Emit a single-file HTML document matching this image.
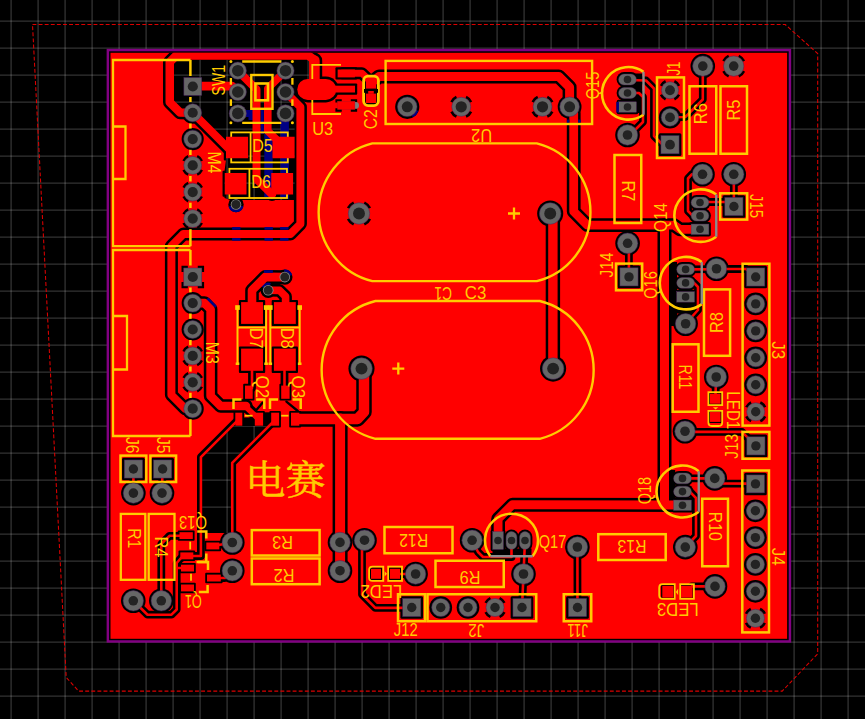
<!DOCTYPE html><html><head><meta charset="utf-8"><style>html,body{margin:0;padding:0;background:#000;overflow:hidden}svg{display:block}</style></head><body><svg width="865" height="719" viewBox="0 0 865 719" shape-rendering="auto"><defs><clipPath id="bc"><rect x="110.5" y="52.8" width="676.65" height="586"/></clipPath><clipPath id="vc"><polygon points="177.00,60.00 308.80,60.00 308.80,81.00 296.00,92.00 294.60,108.00 294.60,200.00 230.00,200.00 224.50,198.00 224.50,171.00 226.00,160.00 226.00,146.00 196.00,116.00 180.00,108.00 174.00,100.00 174.00,64.00"/><polygon points="233.40,426.00 267.20,426.00 230.90,462.40 230.90,533.00 202.20,533.00 202.20,457.40"/></clipPath></defs><rect width="865" height="719" fill="#000"/><g stroke="#ffffff" stroke-opacity="0.2" stroke-width="1.3"><line x1="11.1" y1="0" x2="11.1" y2="719"/><line x1="38.1" y1="0" x2="38.1" y2="719"/><line x1="65.1" y1="0" x2="65.1" y2="719"/><line x1="92.1" y1="0" x2="92.1" y2="719"/><line x1="119.1" y1="0" x2="119.1" y2="719"/><line x1="146.1" y1="0" x2="146.1" y2="719"/><line x1="173.1" y1="0" x2="173.1" y2="719"/><line x1="200.1" y1="0" x2="200.1" y2="719"/><line x1="227.1" y1="0" x2="227.1" y2="719"/><line x1="254.1" y1="0" x2="254.1" y2="719"/><line x1="281.1" y1="0" x2="281.1" y2="719"/><line x1="308.1" y1="0" x2="308.1" y2="719"/><line x1="335.1" y1="0" x2="335.1" y2="719"/><line x1="362.1" y1="0" x2="362.1" y2="719"/><line x1="389.1" y1="0" x2="389.1" y2="719"/><line x1="416.1" y1="0" x2="416.1" y2="719"/><line x1="443.1" y1="0" x2="443.1" y2="719"/><line x1="470.1" y1="0" x2="470.1" y2="719"/><line x1="497.1" y1="0" x2="497.1" y2="719"/><line x1="524.1" y1="0" x2="524.1" y2="719"/><line x1="551.1" y1="0" x2="551.1" y2="719"/><line x1="578.1" y1="0" x2="578.1" y2="719"/><line x1="605.1" y1="0" x2="605.1" y2="719"/><line x1="632.1" y1="0" x2="632.1" y2="719"/><line x1="659.1" y1="0" x2="659.1" y2="719"/><line x1="686.1" y1="0" x2="686.1" y2="719"/><line x1="713.1" y1="0" x2="713.1" y2="719"/><line x1="740.1" y1="0" x2="740.1" y2="719"/><line x1="767.1" y1="0" x2="767.1" y2="719"/><line x1="794.1" y1="0" x2="794.1" y2="719"/><line x1="821.1" y1="0" x2="821.1" y2="719"/><line x1="848.1" y1="0" x2="848.1" y2="719"/><line x1="0" y1="21.1" x2="865" y2="21.1"/><line x1="0" y1="48.1" x2="865" y2="48.1"/><line x1="0" y1="75.1" x2="865" y2="75.1"/><line x1="0" y1="102.1" x2="865" y2="102.1"/><line x1="0" y1="129.1" x2="865" y2="129.1"/><line x1="0" y1="156.1" x2="865" y2="156.1"/><line x1="0" y1="183.1" x2="865" y2="183.1"/><line x1="0" y1="210.1" x2="865" y2="210.1"/><line x1="0" y1="237.1" x2="865" y2="237.1"/><line x1="0" y1="264.1" x2="865" y2="264.1"/><line x1="0" y1="291.1" x2="865" y2="291.1"/><line x1="0" y1="318.1" x2="865" y2="318.1"/><line x1="0" y1="345.1" x2="865" y2="345.1"/><line x1="0" y1="372.1" x2="865" y2="372.1"/><line x1="0" y1="399.1" x2="865" y2="399.1"/><line x1="0" y1="426.1" x2="865" y2="426.1"/><line x1="0" y1="453.1" x2="865" y2="453.1"/><line x1="0" y1="480.1" x2="865" y2="480.1"/><line x1="0" y1="507.1" x2="865" y2="507.1"/><line x1="0" y1="534.1" x2="865" y2="534.1"/><line x1="0" y1="561.1" x2="865" y2="561.1"/><line x1="0" y1="588.1" x2="865" y2="588.1"/><line x1="0" y1="615.1" x2="865" y2="615.1"/><line x1="0" y1="642.1" x2="865" y2="642.1"/><line x1="0" y1="669.1" x2="865" y2="669.1"/><line x1="0" y1="696.1" x2="865" y2="696.1"/></g><polygon points="32.50,24.50 785.20,24.50 817.70,53.60 817.70,653.80 782.20,691.10 78.70,691.10 66.20,677.40" fill="none" stroke="#dd0000" stroke-width="1.05" stroke-dasharray="3.9 2.2"/><rect x="107.85" y="50.05" width="682.10" height="591.40" fill="#000" stroke="#820082" stroke-width="2.45"/><rect x="110.5" y="52.8" width="676.6" height="586.00" fill="#ff0000"/><g fill="#000" stroke="none"><polygon points="177.00,60.00 308.80,60.00 308.80,81.00 296.00,92.00 294.60,108.00 294.60,200.00 230.00,200.00 224.50,198.00 224.50,171.00 226.00,160.00 226.00,146.00 196.00,116.00 180.00,108.00 174.00,100.00 174.00,64.00"/><polygon points="233.40,426.00 267.20,426.00 230.90,462.40 230.90,533.00 202.20,533.00 202.20,457.40"/><polygon points="242.30,417.50 254.80,417.50 254.80,426.00 242.30,426.00"/><polygon points="263.10,412.30 271.20,412.30 271.20,426.00 263.10,426.00"/><rect x="668.8" y="262" width="8.2" height="64"/><rect x="668.8" y="301" width="26" height="12.5"/><rect x="668.7" y="470" width="6.5" height="32"/><rect x="634" y="73.5" width="8.3" height="39.5"/><rect x="492.5" y="548.5" width="39" height="7"/></g><g clip-path="url(#bc)" fill="none" stroke="#000" stroke-linejoin="round" stroke-linecap="round"><polyline points="192.75,112.75 180.00,112.50 169.75,102.25 169.75,62.00 176.25,55.60 308.50,55.60 313.80,59.50 314.20,64.00" stroke-width="13.50"/><polyline points="314.40,60.50 314.40,88.00" stroke-width="15.60"/><polyline points="192.75,112.75 232.00,152.00" stroke-width="13.00"/><polyline points="192.90,86.10 232.00,86.10 237.80,92.00" stroke-width="13.60"/><polyline points="237.80,70.70 256.50,89.40 256.50,179.00 272.00,194.50" stroke-width="13.00"/><polyline points="285.50,70.70 267.80,88.40 267.80,131.00 280.00,143.00" stroke-width="12.60"/><polyline points="285.50,92.00 300.40,107.00 300.40,224.00 290.50,233.90 183.50,233.90 171.40,246.00 171.40,395.00 185.10,408.70 192.70,408.70" stroke-width="13.00"/><polyline points="342.00,73.30 362.00,73.30 369.00,80.00" stroke-width="12.00"/><polyline points="371.00,83.00 379.00,76.50 558.80,76.50 569.60,87.30 569.60,106.80" stroke-width="14.00"/><polyline points="569.60,106.80 573.70,113.00 573.70,211.50 587.30,225.20 674.00,225.20 680.00,229.40 698.00,229.40" stroke-width="13.80"/><polyline points="664.50,225.20 664.50,504.60" stroke-width="14.00"/><polyline points="682.50,505.00 512.50,504.60 498.10,519.00 498.10,540.00" stroke-width="13.80"/><polyline points="550.20,213.50 552.90,219.00 552.90,368.60" stroke-width="14.40"/><polyline points="361.50,368.60 364.00,374.00 364.00,412.00 357.50,418.90 299.50,418.90" stroke-width="15.50"/><polyline points="340.10,418.60 340.10,570.70" stroke-width="15.00"/><polyline points="192.70,303.10 204.50,303.10 210.60,309.20 210.60,396.00 220.60,406.00 246.00,406.00" stroke-width="13.60"/><polyline points="244.00,405.00 258.50,419.00" stroke-width="10.10"/><polyline points="252.00,310.00 252.00,290.30 265.40,276.90 284.80,277.10" stroke-width="13.60"/><polyline points="285.60,310.00 285.60,296.50 279.50,290.40 268.20,290.30" stroke-width="12.60"/><polyline points="246.00,401.20 256.20,410.30 262.50,402.70" stroke-width="2.30"/><polyline points="286.40,401.60 297.80,411.00" stroke-width="2.30"/><polyline points="702.80,66.10 702.80,99.50 685.30,117.00 670.00,117.20" stroke-width="7.80"/><polyline points="627.25,80.00 646.00,80.50 654.00,88.50 654.00,136.00 662.00,144.00 670.00,144.50" stroke-width="7.80"/><polyline points="627.50,93.00 639.00,93.00 643.00,97.00 643.00,122.00 630.00,135.00" stroke-width="7.80"/><polyline points="702.50,174.20 692.00,174.20 688.00,178.50 688.00,211.00 692.50,215.60 700.00,215.60" stroke-width="7.80"/><polyline points="733.80,174.20 733.90,206.00" stroke-width="7.80"/><polyline points="700.00,202.00 733.00,202.00" stroke-width="7.80"/><polyline points="627.80,243.30 628.90,250.00 628.90,276.90" stroke-width="7.80"/><polyline points="716.50,269.00 746.00,269.00 755.75,276.75" stroke-width="7.80"/><polyline points="685.60,269.40 716.50,269.20" stroke-width="7.80"/><polyline points="685.60,282.90 694.00,282.90 698.00,287.00 698.00,310.00 685.60,323.75" stroke-width="7.80"/><polyline points="716.25,377.00 715.30,399.00" stroke-width="7.80"/><polyline points="685.00,431.90 742.00,431.90 755.90,445.90" stroke-width="7.80"/><polyline points="682.50,478.40 714.80,478.30 720.00,483.50 755.40,483.60" stroke-width="7.80"/><polyline points="682.50,491.60 690.00,491.80 696.00,498.00 696.00,536.00 685.30,547.00" stroke-width="7.80"/><polyline points="715.00,586.40 692.00,586.40" stroke-width="7.80"/><polyline points="577.40,547.00 577.50,607.50" stroke-width="7.80"/><polyline points="525.00,540.50 523.50,574.00 522.00,607.50" stroke-width="7.80"/><polyline points="472.00,540.00 478.00,552.00 483.00,557.00 511.50,557.00 511.50,545.00" stroke-width="7.80"/><polyline points="364.50,540.20 362.00,547.00 362.00,594.50 375.30,607.90 411.50,607.90" stroke-width="7.80"/><polyline points="415.60,574.00 396.00,574.00" stroke-width="7.80"/><polyline points="252.00,371.00 252.00,388.00" stroke-width="7.80"/><polyline points="284.50,371.00 284.50,388.00" stroke-width="7.80"/><polyline points="238.90,419.10 200.90,457.10 200.90,556.00 187.00,556.00" stroke-width="7.80"/><polyline points="277.00,418.00 232.20,462.80 232.30,542.50" stroke-width="7.80"/><polyline points="213.00,546.00 232.30,542.50" stroke-width="7.80"/><polyline points="214.00,578.00 225.00,578.00 232.30,570.80" stroke-width="7.80"/><polyline points="161.30,600.80 161.30,544.00 169.50,535.80 186.00,535.80" stroke-width="7.80"/><polyline points="186.80,555.80 181.00,558.00 176.70,563.00 176.70,609.50 171.50,614.70 147.50,614.70 133.30,600.80" stroke-width="7.80"/><polyline points="187.50,568.00 177.00,568.00" stroke-width="7.80"/><polyline points="133.40,469.00 133.40,493.00" stroke-width="7.80"/><polyline points="162.30,469.00 162.20,493.00" stroke-width="7.80"/><rect x="223.80" y="134.55" width="26.50" height="25.90" rx="1.0" fill="#000" stroke="none"/><rect x="270.30" y="134.55" width="26.50" height="25.90" rx="1.0" fill="#000" stroke="none"/><rect x="222.55" y="170.80" width="26.15" height="25.90" rx="1.0" fill="#000" stroke="none"/><rect x="269.05" y="170.80" width="26.25" height="25.90" rx="1.0" fill="#000" stroke="none"/><rect x="238.90" y="299.90" width="26.30" height="26.20" rx="1.0" fill="#000" stroke="none"/><rect x="238.90" y="346.40" width="26.30" height="26.60" rx="1.0" fill="#000" stroke="none"/><rect x="271.70" y="299.90" width="26.30" height="26.20" rx="1.0" fill="#000" stroke="none"/><rect x="271.70" y="346.40" width="26.30" height="26.60" rx="1.0" fill="#000" stroke="none"/><rect x="294.8" y="76.6" width="44" height="25.8" rx="12.9" fill="#000" stroke="none"/><rect x="331.80" y="83.50" width="25.40" height="11.20" rx="1.0" fill="#000" stroke="none"/><rect x="335.45" y="67.30" width="21.65" height="12.30" rx="1.0" fill="#000" stroke="none"/><path d="M341.75 100.40L336.55 100.40L336.55 102.60" stroke-width="2.3" stroke-linecap="butt" stroke-linejoin="miter"/><path d="M341.75 110.50L336.55 110.50L336.55 108.30" stroke-width="2.3" stroke-linecap="butt" stroke-linejoin="miter"/><path d="M350.80 100.40L356.00 100.40L356.00 102.60" stroke-width="2.3" stroke-linecap="butt" stroke-linejoin="miter"/><path d="M350.80 110.50L356.00 110.50L356.00 108.30" stroke-width="2.3" stroke-linecap="butt" stroke-linejoin="miter"/><rect x="363.70" y="75.80" width="14.75" height="15.00" rx="1.0" fill="#000" stroke="none"/><rect x="363.70" y="91.40" width="14.75" height="13.80" rx="1.0" fill="#000" stroke="none"/><rect x="233.50" y="410.90" width="10.60" height="16.60" rx="1.0" fill="#000" stroke="none"/><rect x="253.00" y="410.90" width="11.90" height="16.60" rx="1.0" fill="#000" stroke="none"/><rect x="269.40" y="410.90" width="11.50" height="16.60" rx="1.0" fill="#000" stroke="none"/><rect x="289.20" y="410.90" width="11.90" height="16.60" rx="1.0" fill="#000" stroke="none"/><rect x="243.20" y="383.80" width="11.30" height="16.80" rx="1.0" fill="#000" stroke="none"/><rect x="279.40" y="383.80" width="12.00" height="16.80" rx="1.0" fill="#000" stroke="none"/><rect x="177.70" y="530.40" width="16.90" height="10.40" rx="1.0" fill="#000" stroke="none"/><rect x="178.50" y="550.60" width="16.60" height="10.50" rx="1.0" fill="#000" stroke="none"/><rect x="204.50" y="540.70" width="16.60" height="10.50" rx="1.0" fill="#000" stroke="none"/><rect x="179.20" y="562.90" width="16.60" height="10.40" rx="1.0" fill="#000" stroke="none"/><rect x="179.20" y="582.70" width="16.60" height="10.50" rx="1.0" fill="#000" stroke="none"/><rect x="205.20" y="572.80" width="17.40" height="10.50" rx="1.0" fill="#000" stroke="none"/><rect x="708.80" y="392.55" width="13.00" height="12.40" rx="1.0" fill="#000" stroke="none"/><rect x="708.80" y="410.70" width="13.00" height="12.40" rx="1.0" fill="#000" stroke="none"/><rect x="661.10" y="584.60" width="13.60" height="14.30" rx="1.0" fill="#000" stroke="none"/><rect x="679.80" y="584.60" width="14.00" height="14.30" rx="1.0" fill="#000" stroke="none"/><rect x="369.80" y="567.60" width="12.40" height="12.40" rx="1.0" fill="#000" stroke="none"/><rect x="388.80" y="567.60" width="12.40" height="12.40" rx="1.0" fill="#000" stroke="none"/><rect x="181.60" y="75.30" width="22.40" height="22.40" rx="1.5" fill="#000" stroke="none"/><circle cx="192.70" cy="112.75" r="11.05" fill="#000" stroke="none"/><circle cx="192.70" cy="139.10" r="11.05" fill="#000" stroke="none"/><path d="M201.87 169.87A10.20 10.20 0 0 1 197.17 174.57" stroke-width="2.50" stroke-linecap="butt"/><path d="M188.23 174.57A10.20 10.20 0 0 1 183.53 169.87" stroke-width="2.50" stroke-linecap="butt"/><path d="M183.53 160.93A10.20 10.20 0 0 1 188.23 156.23" stroke-width="2.50" stroke-linecap="butt"/><path d="M197.17 156.23A10.20 10.20 0 0 1 201.87 160.93" stroke-width="2.50" stroke-linecap="butt"/><path d="M201.87 196.57A10.20 10.20 0 0 1 197.17 201.27" stroke-width="2.50" stroke-linecap="butt"/><path d="M188.23 201.27A10.20 10.20 0 0 1 183.53 196.57" stroke-width="2.50" stroke-linecap="butt"/><path d="M183.53 187.63A10.20 10.20 0 0 1 188.23 182.93" stroke-width="2.50" stroke-linecap="butt"/><path d="M197.17 182.93A10.20 10.20 0 0 1 201.87 187.63" stroke-width="2.50" stroke-linecap="butt"/><path d="M201.87 223.07A10.20 10.20 0 0 1 197.17 227.77" stroke-width="2.50" stroke-linecap="butt"/><path d="M188.23 227.77A10.20 10.20 0 0 1 183.53 223.07" stroke-width="2.50" stroke-linecap="butt"/><path d="M183.53 214.13A10.20 10.20 0 0 1 188.23 209.43" stroke-width="2.50" stroke-linecap="butt"/><path d="M197.17 209.43A10.20 10.20 0 0 1 201.87 214.13" stroke-width="2.50" stroke-linecap="butt"/><path d="M187.85 266.85L182.65 266.85L182.65 272.05" stroke-width="2.30" stroke-linecap="butt" stroke-linejoin="miter"/><path d="M187.85 287.15L182.65 287.15L182.65 281.95" stroke-width="2.30" stroke-linecap="butt" stroke-linejoin="miter"/><path d="M197.75 266.85L202.95 266.85L202.95 272.05" stroke-width="2.30" stroke-linecap="butt" stroke-linejoin="miter"/><path d="M197.75 287.15L202.95 287.15L202.95 281.95" stroke-width="2.30" stroke-linecap="butt" stroke-linejoin="miter"/><circle cx="192.70" cy="303.10" r="11.05" fill="#000" stroke="none"/><circle cx="192.70" cy="329.50" r="11.05" fill="#000" stroke="none"/><path d="M201.87 360.37A10.20 10.20 0 0 1 197.17 365.07" stroke-width="2.50" stroke-linecap="butt"/><path d="M188.23 365.07A10.20 10.20 0 0 1 183.53 360.37" stroke-width="2.50" stroke-linecap="butt"/><path d="M183.53 351.43A10.20 10.20 0 0 1 188.23 346.73" stroke-width="2.50" stroke-linecap="butt"/><path d="M197.17 346.73A10.20 10.20 0 0 1 201.87 351.43" stroke-width="2.50" stroke-linecap="butt"/><path d="M201.87 386.77A10.20 10.20 0 0 1 197.17 391.47" stroke-width="2.50" stroke-linecap="butt"/><path d="M188.23 391.47A10.20 10.20 0 0 1 183.53 386.77" stroke-width="2.50" stroke-linecap="butt"/><path d="M183.53 377.83A10.20 10.20 0 0 1 188.23 373.13" stroke-width="2.50" stroke-linecap="butt"/><path d="M197.17 373.13A10.20 10.20 0 0 1 201.87 377.83" stroke-width="2.50" stroke-linecap="butt"/><circle cx="192.70" cy="408.70" r="11.05" fill="#000" stroke="none"/><circle cx="237.80" cy="70.70" r="10.10" fill="#000" stroke="none"/><circle cx="237.80" cy="92.00" r="10.10" fill="#000" stroke="none"/><circle cx="237.80" cy="113.40" r="10.10" fill="#000" stroke="none"/><circle cx="285.50" cy="70.70" r="10.10" fill="#000" stroke="none"/><circle cx="285.50" cy="92.00" r="10.10" fill="#000" stroke="none"/><circle cx="285.50" cy="113.40" r="10.10" fill="#000" stroke="none"/><circle cx="407.25" cy="106.80" r="12.10" fill="#000" stroke="none"/><path d="M471.00 111.56A10.85 10.85 0 0 1 466.01 116.55" stroke-width="2.70" stroke-linecap="butt"/><path d="M456.49 116.55A10.85 10.85 0 0 1 451.50 111.56" stroke-width="2.70" stroke-linecap="butt"/><path d="M451.50 102.04A10.85 10.85 0 0 1 456.49 97.05" stroke-width="2.70" stroke-linecap="butt"/><path d="M466.01 97.05A10.85 10.85 0 0 1 471.00 102.04" stroke-width="2.70" stroke-linecap="butt"/><path d="M552.25 111.56A10.85 10.85 0 0 1 547.26 116.55" stroke-width="2.70" stroke-linecap="butt"/><path d="M537.74 116.55A10.85 10.85 0 0 1 532.75 111.56" stroke-width="2.70" stroke-linecap="butt"/><path d="M532.75 102.04A10.85 10.85 0 0 1 537.74 97.05" stroke-width="2.70" stroke-linecap="butt"/><path d="M547.26 97.05A10.85 10.85 0 0 1 552.25 102.04" stroke-width="2.70" stroke-linecap="butt"/><circle cx="569.60" cy="106.80" r="11.90" fill="#000" stroke="none"/><path d="M369.88 218.80A12.10 12.10 0 0 1 364.30 224.38" stroke-width="2.70" stroke-linecap="butt"/><path d="M353.70 224.38A12.10 12.10 0 0 1 348.12 218.80" stroke-width="2.70" stroke-linecap="butt"/><path d="M348.12 208.20A12.10 12.10 0 0 1 353.70 202.62" stroke-width="2.70" stroke-linecap="butt"/><path d="M364.30 202.62A12.10 12.10 0 0 1 369.88 208.20" stroke-width="2.70" stroke-linecap="butt"/><circle cx="550.20" cy="213.50" r="13.05" fill="#000" stroke="none"/><circle cx="361.50" cy="368.60" r="13.05" fill="#000" stroke="none"/><circle cx="553.10" cy="368.60" r="13.05" fill="#000" stroke="none"/><circle cx="627.50" cy="135.00" r="12.30" fill="#000" stroke="none"/><circle cx="702.80" cy="66.10" r="12.30" fill="#000" stroke="none"/><path d="M743.99 71.12A11.45 11.45 0 0 1 738.72 76.39" stroke-width="2.50" stroke-linecap="butt"/><path d="M728.68 76.39A11.45 11.45 0 0 1 723.41 71.12" stroke-width="2.50" stroke-linecap="butt"/><path d="M723.41 61.08A11.45 11.45 0 0 1 728.68 55.81" stroke-width="2.50" stroke-linecap="butt"/><path d="M738.72 55.81A11.45 11.45 0 0 1 743.99 61.08" stroke-width="2.50" stroke-linecap="butt"/><circle cx="702.50" cy="174.30" r="12.30" fill="#000" stroke="none"/><circle cx="733.75" cy="174.30" r="12.30" fill="#000" stroke="none"/><circle cx="627.60" cy="243.30" r="12.30" fill="#000" stroke="none"/><circle cx="716.50" cy="268.75" r="12.30" fill="#000" stroke="none"/><circle cx="685.60" cy="323.75" r="12.30" fill="#000" stroke="none"/><circle cx="716.25" cy="377.00" r="12.30" fill="#000" stroke="none"/><circle cx="685.00" cy="431.25" r="12.30" fill="#000" stroke="none"/><circle cx="714.75" cy="478.40" r="12.30" fill="#000" stroke="none"/><circle cx="685.30" cy="547.10" r="12.30" fill="#000" stroke="none"/><circle cx="715.00" cy="586.40" r="12.30" fill="#000" stroke="none"/><circle cx="577.40" cy="547.00" r="12.30" fill="#000" stroke="none"/><circle cx="523.50" cy="574.00" r="12.30" fill="#000" stroke="none"/><circle cx="472.10" cy="540.30" r="12.30" fill="#000" stroke="none"/><circle cx="415.60" cy="574.00" r="12.30" fill="#000" stroke="none"/><circle cx="364.50" cy="540.20" r="12.30" fill="#000" stroke="none"/><circle cx="340.00" cy="542.40" r="12.30" fill="#000" stroke="none"/><circle cx="340.00" cy="570.70" r="12.30" fill="#000" stroke="none"/><circle cx="232.30" cy="542.50" r="12.30" fill="#000" stroke="none"/><circle cx="232.30" cy="570.80" r="12.30" fill="#000" stroke="none"/><circle cx="133.40" cy="493.10" r="12.30" fill="#000" stroke="none"/><circle cx="162.00" cy="493.10" r="12.30" fill="#000" stroke="none"/><circle cx="133.30" cy="600.80" r="12.30" fill="#000" stroke="none"/><circle cx="161.30" cy="600.80" r="12.30" fill="#000" stroke="none"/><path d="M678.94 94.61A9.95 9.95 0 0 1 674.36 99.19" stroke-width="2.70" stroke-linecap="butt"/><path d="M665.64 99.19A9.95 9.95 0 0 1 661.06 94.61" stroke-width="2.70" stroke-linecap="butt"/><path d="M661.06 85.89A9.95 9.95 0 0 1 665.64 81.31" stroke-width="2.70" stroke-linecap="butt"/><path d="M674.36 81.31A9.95 9.95 0 0 1 678.94 85.89" stroke-width="2.70" stroke-linecap="butt"/><circle cx="670.00" cy="117.40" r="11.10" fill="#000" stroke="none"/><rect x="658.65" y="133.35" width="22.70" height="22.70" rx="1.5" fill="#000" stroke="none"/><rect x="744.35" y="265.65" width="22.70" height="22.70" rx="1.5" fill="#000" stroke="none"/><circle cx="755.70" cy="303.90" r="11.35" fill="#000" stroke="none"/><circle cx="755.70" cy="330.90" r="11.35" fill="#000" stroke="none"/><circle cx="755.70" cy="357.80" r="11.35" fill="#000" stroke="none"/><circle cx="755.70" cy="384.80" r="11.35" fill="#000" stroke="none"/><path d="M765.05 416.36A10.40 10.40 0 0 1 760.26 421.15" stroke-width="2.70" stroke-linecap="butt"/><path d="M751.14 421.15A10.40 10.40 0 0 1 746.35 416.36" stroke-width="2.70" stroke-linecap="butt"/><path d="M746.35 407.24A10.40 10.40 0 0 1 751.14 402.45" stroke-width="2.70" stroke-linecap="butt"/><path d="M760.26 402.45A10.40 10.40 0 0 1 765.05 407.24" stroke-width="2.70" stroke-linecap="butt"/><rect x="744.25" y="472.65" width="22.50" height="22.50" rx="1.5" fill="#000" stroke="none"/><circle cx="755.40" cy="510.80" r="11.35" fill="#000" stroke="none"/><circle cx="755.40" cy="537.60" r="11.35" fill="#000" stroke="none"/><circle cx="755.40" cy="564.40" r="11.35" fill="#000" stroke="none"/><circle cx="755.40" cy="591.30" r="11.35" fill="#000" stroke="none"/><path d="M764.75 622.86A10.40 10.40 0 0 1 759.96 627.65" stroke-width="2.70" stroke-linecap="butt"/><path d="M750.84 627.65A10.40 10.40 0 0 1 746.05 622.86" stroke-width="2.70" stroke-linecap="butt"/><path d="M746.05 613.74A10.40 10.40 0 0 1 750.84 608.95" stroke-width="2.70" stroke-linecap="butt"/><path d="M759.96 608.95A10.40 10.40 0 0 1 764.75 613.74" stroke-width="2.70" stroke-linecap="butt"/><circle cx="440.75" cy="607.50" r="11.35" fill="#000" stroke="none"/><circle cx="468.00" cy="607.50" r="11.35" fill="#000" stroke="none"/><path d="M504.35 612.06A10.40 10.40 0 0 1 499.56 616.85" stroke-width="2.70" stroke-linecap="butt"/><path d="M490.44 616.85A10.40 10.40 0 0 1 485.65 612.06" stroke-width="2.70" stroke-linecap="butt"/><path d="M485.65 602.94A10.40 10.40 0 0 1 490.44 598.15" stroke-width="2.70" stroke-linecap="butt"/><path d="M499.56 598.15A10.40 10.40 0 0 1 504.35 602.94" stroke-width="2.70" stroke-linecap="butt"/><rect x="510.65" y="596.15" width="22.70" height="22.70" rx="1.5" fill="#000" stroke="none"/><rect x="400.40" y="596.15" width="22.70" height="22.70" rx="1.5" fill="#000" stroke="none"/><rect x="566.15" y="596.15" width="22.70" height="22.70" rx="1.5" fill="#000" stroke="none"/><rect x="744.55" y="434.55" width="22.70" height="22.70" rx="1.5" fill="#000" stroke="none"/><rect x="617.65" y="265.55" width="22.70" height="22.70" rx="1.5" fill="#000" stroke="none"/><rect x="722.55" y="195.15" width="22.70" height="22.70" rx="1.5" fill="#000" stroke="none"/><rect x="151.25" y="457.65" width="22.70" height="22.70" rx="1.5" fill="#000" stroke="none"/><rect x="122.05" y="457.65" width="22.70" height="22.70" rx="1.5" fill="#000" stroke="none"/><rect x="616.62" y="72.10" width="21.75" height="14.80" rx="7.4" fill="#000" stroke="none"/><rect x="616.62" y="85.60" width="21.75" height="14.80" rx="7.4" fill="#000" stroke="none"/><rect x="616.62" y="99.80" width="21.75" height="14.40" rx="2.0" fill="#000" stroke="none"/><rect x="689.12" y="195.10" width="21.75" height="14.80" rx="7.4" fill="#000" stroke="none"/><rect x="689.12" y="208.30" width="21.75" height="14.80" rx="7.4" fill="#000" stroke="none"/><rect x="689.12" y="222.05" width="21.75" height="14.40" rx="2.0" fill="#000" stroke="none"/><rect x="674.73" y="262.00" width="21.75" height="14.80" rx="7.4" fill="#000" stroke="none"/><rect x="674.73" y="275.50" width="21.75" height="14.80" rx="7.4" fill="#000" stroke="none"/><rect x="674.73" y="289.70" width="21.75" height="14.40" rx="2.0" fill="#000" stroke="none"/><rect x="671.62" y="471.00" width="21.75" height="14.80" rx="7.4" fill="#000" stroke="none"/><rect x="671.62" y="484.20" width="21.75" height="14.80" rx="7.4" fill="#000" stroke="none"/><rect x="671.62" y="498.05" width="21.75" height="14.40" rx="2.0" fill="#000" stroke="none"/><rect x="490.60" y="529.62" width="14.80" height="21.75" rx="2.0" fill="#000" stroke="none"/><rect x="504.10" y="529.62" width="14.80" height="21.75" rx="7.4" fill="#000" stroke="none"/><rect x="517.60" y="529.62" width="14.80" height="21.75" rx="7.4" fill="#000" stroke="none"/><circle cx="236.00" cy="204.50" r="7.70" fill="#000" stroke="none"/><circle cx="284.80" cy="277.10" r="7.70" fill="#000" stroke="none"/><circle cx="268.20" cy="290.30" r="7.70" fill="#000" stroke="none"/></g><g clip-path="url(#vc)" stroke="#ffffff" stroke-opacity="0.2" stroke-width="1.3"><line x1="11.1" y1="0" x2="11.1" y2="719"/><line x1="38.1" y1="0" x2="38.1" y2="719"/><line x1="65.1" y1="0" x2="65.1" y2="719"/><line x1="92.1" y1="0" x2="92.1" y2="719"/><line x1="119.1" y1="0" x2="119.1" y2="719"/><line x1="146.1" y1="0" x2="146.1" y2="719"/><line x1="173.1" y1="0" x2="173.1" y2="719"/><line x1="200.1" y1="0" x2="200.1" y2="719"/><line x1="227.1" y1="0" x2="227.1" y2="719"/><line x1="254.1" y1="0" x2="254.1" y2="719"/><line x1="281.1" y1="0" x2="281.1" y2="719"/><line x1="308.1" y1="0" x2="308.1" y2="719"/><line x1="335.1" y1="0" x2="335.1" y2="719"/><line x1="362.1" y1="0" x2="362.1" y2="719"/><line x1="389.1" y1="0" x2="389.1" y2="719"/><line x1="416.1" y1="0" x2="416.1" y2="719"/><line x1="443.1" y1="0" x2="443.1" y2="719"/><line x1="470.1" y1="0" x2="470.1" y2="719"/><line x1="497.1" y1="0" x2="497.1" y2="719"/><line x1="524.1" y1="0" x2="524.1" y2="719"/><line x1="551.1" y1="0" x2="551.1" y2="719"/><line x1="578.1" y1="0" x2="578.1" y2="719"/><line x1="605.1" y1="0" x2="605.1" y2="719"/><line x1="632.1" y1="0" x2="632.1" y2="719"/><line x1="659.1" y1="0" x2="659.1" y2="719"/><line x1="686.1" y1="0" x2="686.1" y2="719"/><line x1="713.1" y1="0" x2="713.1" y2="719"/><line x1="740.1" y1="0" x2="740.1" y2="719"/><line x1="767.1" y1="0" x2="767.1" y2="719"/><line x1="794.1" y1="0" x2="794.1" y2="719"/><line x1="821.1" y1="0" x2="821.1" y2="719"/><line x1="848.1" y1="0" x2="848.1" y2="719"/><line x1="0" y1="21.1" x2="865" y2="21.1"/><line x1="0" y1="48.1" x2="865" y2="48.1"/><line x1="0" y1="75.1" x2="865" y2="75.1"/><line x1="0" y1="102.1" x2="865" y2="102.1"/><line x1="0" y1="129.1" x2="865" y2="129.1"/><line x1="0" y1="156.1" x2="865" y2="156.1"/><line x1="0" y1="183.1" x2="865" y2="183.1"/><line x1="0" y1="210.1" x2="865" y2="210.1"/><line x1="0" y1="237.1" x2="865" y2="237.1"/><line x1="0" y1="264.1" x2="865" y2="264.1"/><line x1="0" y1="291.1" x2="865" y2="291.1"/><line x1="0" y1="318.1" x2="865" y2="318.1"/><line x1="0" y1="345.1" x2="865" y2="345.1"/><line x1="0" y1="372.1" x2="865" y2="372.1"/><line x1="0" y1="399.1" x2="865" y2="399.1"/><line x1="0" y1="426.1" x2="865" y2="426.1"/><line x1="0" y1="453.1" x2="865" y2="453.1"/><line x1="0" y1="480.1" x2="865" y2="480.1"/><line x1="0" y1="507.1" x2="865" y2="507.1"/><line x1="0" y1="534.1" x2="865" y2="534.1"/><line x1="0" y1="561.1" x2="865" y2="561.1"/><line x1="0" y1="588.1" x2="865" y2="588.1"/><line x1="0" y1="615.1" x2="865" y2="615.1"/><line x1="0" y1="642.1" x2="865" y2="642.1"/><line x1="0" y1="669.1" x2="865" y2="669.1"/><line x1="0" y1="696.1" x2="865" y2="696.1"/></g><g fill="none" stroke="#000084" stroke-linejoin="round" stroke-linecap="butt"><polyline points="268.50,134.00 268.50,197.00" stroke-width="8.40"/><polyline points="284.70,114.00 284.70,199.00" stroke-width="8.40"/><polyline points="246.00,113.40 252.00,113.40 252.00,120.00" stroke-width="7.00"/><polyline points="262.30,110.00 262.30,134.00" stroke-width="3.00"/><path d="M417.49 110.53A10.9 10.9 0 0 1 412.37 116.42" stroke-width="2.1"/><path d="M242.28 206.18A6.50 6.50 0 0 1 229.72 206.18" stroke-width="2.40"/><path d="M284.23 270.62A6.50 6.50 0 0 1 291.08 275.42" stroke-width="2.40"/><path d="M262.57 287.05A6.50 6.50 0 0 1 270.42 284.19" stroke-width="2.40"/></g><g clip-path="url(#bc)" fill="none" stroke="#ff0000" stroke-linejoin="round" stroke-linecap="round"><polyline points="192.75,112.75 180.00,112.50 169.75,102.25 169.75,62.00 176.25,55.60 308.50,55.60 313.80,59.50 314.20,64.00" stroke-width="8.50"/><polyline points="314.40,60.50 314.40,88.00" stroke-width="10.60"/><polyline points="192.75,112.75 232.00,152.00" stroke-width="8.00"/><polyline points="192.90,86.10 232.00,86.10 237.80,92.00" stroke-width="8.60"/><polyline points="237.80,70.70 256.50,89.40 256.50,179.00 272.00,194.50" stroke-width="8.00"/><polyline points="285.50,70.70 267.80,88.40 267.80,131.00 280.00,143.00" stroke-width="7.60"/><polyline points="285.50,92.00 300.40,107.00 300.40,224.00 290.50,233.90 183.50,233.90 171.40,246.00 171.40,395.00 185.10,408.70 192.70,408.70" stroke-width="8.00"/><polyline points="342.00,73.30 362.00,73.30 369.00,80.00" stroke-width="7.00"/><polyline points="371.00,83.00 379.00,76.50 558.80,76.50 569.60,87.30 569.60,106.80" stroke-width="9.00"/><polyline points="569.60,106.80 573.70,113.00 573.70,211.50 587.30,225.20 674.00,225.20 680.00,229.40 698.00,229.40" stroke-width="8.80"/><polyline points="664.50,225.20 664.50,504.60" stroke-width="9.00"/><polyline points="682.50,505.00 512.50,504.60 498.10,519.00 498.10,540.00" stroke-width="8.80"/><polyline points="550.20,213.50 552.90,219.00 552.90,368.60" stroke-width="9.40"/><polyline points="361.50,368.60 364.00,374.00 364.00,412.00 357.50,418.90 299.50,418.90" stroke-width="10.50"/><polyline points="340.10,418.60 340.10,570.70" stroke-width="10.00"/><polyline points="192.70,303.10 204.50,303.10 210.60,309.20 210.60,396.00 220.60,406.00 246.00,406.00" stroke-width="8.60"/><polyline points="244.00,405.00 258.50,419.00" stroke-width="5.50"/><polyline points="252.00,310.00 252.00,290.30 265.40,276.90 284.80,277.10" stroke-width="8.60"/><polyline points="285.60,310.00 285.60,296.50 279.50,290.40 268.20,290.30" stroke-width="7.60"/><polyline points="702.80,66.10 702.80,99.50 685.30,117.00 670.00,117.20" stroke-width="2.60"/><polyline points="627.25,80.00 646.00,80.50 654.00,88.50 654.00,136.00 662.00,144.00 670.00,144.50" stroke-width="2.60"/><polyline points="627.50,93.00 639.00,93.00 643.00,97.00 643.00,122.00 630.00,135.00" stroke-width="2.60"/><polyline points="702.50,174.20 692.00,174.20 688.00,178.50 688.00,211.00 692.50,215.60 700.00,215.60" stroke-width="2.60"/><polyline points="733.80,174.20 733.90,206.00" stroke-width="2.60"/><polyline points="700.00,202.00 733.00,202.00" stroke-width="2.60"/><polyline points="627.80,243.30 628.90,250.00 628.90,276.90" stroke-width="2.60"/><polyline points="716.50,269.00 746.00,269.00 755.75,276.75" stroke-width="2.60"/><polyline points="685.60,269.40 716.50,269.20" stroke-width="2.60"/><polyline points="685.60,282.90 694.00,282.90 698.00,287.00 698.00,310.00 685.60,323.75" stroke-width="2.60"/><polyline points="716.25,377.00 715.30,399.00" stroke-width="2.60"/><polyline points="685.00,431.90 742.00,431.90 755.90,445.90" stroke-width="2.60"/><polyline points="682.50,478.40 714.80,478.30 720.00,483.50 755.40,483.60" stroke-width="2.60"/><polyline points="682.50,491.60 690.00,491.80 696.00,498.00 696.00,536.00 685.30,547.00" stroke-width="2.60"/><polyline points="715.00,586.40 692.00,586.40" stroke-width="2.60"/><polyline points="577.40,547.00 577.50,607.50" stroke-width="2.60"/><polyline points="525.00,540.50 523.50,574.00 522.00,607.50" stroke-width="2.60"/><polyline points="472.00,540.00 478.00,552.00 483.00,557.00 511.50,557.00 511.50,545.00" stroke-width="2.60"/><polyline points="364.50,540.20 362.00,547.00 362.00,594.50 375.30,607.90 411.50,607.90" stroke-width="2.60"/><polyline points="415.60,574.00 396.00,574.00" stroke-width="2.60"/><polyline points="252.00,371.00 252.00,388.00" stroke-width="2.60"/><polyline points="284.50,371.00 284.50,388.00" stroke-width="2.60"/><polyline points="238.90,419.10 200.90,457.10 200.90,556.00 187.00,556.00" stroke-width="2.60"/><polyline points="277.00,418.00 232.20,462.80 232.30,542.50" stroke-width="2.60"/><polyline points="213.00,546.00 232.30,542.50" stroke-width="2.60"/><polyline points="214.00,578.00 225.00,578.00 232.30,570.80" stroke-width="2.60"/><polyline points="161.30,600.80 161.30,544.00 169.50,535.80 186.00,535.80" stroke-width="2.60"/><polyline points="186.80,555.80 181.00,558.00 176.70,563.00 176.70,609.50 171.50,614.70 147.50,614.70 133.30,600.80" stroke-width="2.60"/><polyline points="187.50,568.00 177.00,568.00" stroke-width="2.60"/><polyline points="133.40,469.00 133.40,493.00" stroke-width="2.60"/><polyline points="162.30,469.00 162.20,493.00" stroke-width="2.60"/></g><rect x="264" y="270.2" width="8.9" height="2.7" fill="#000084"/><line x1="207.5" y1="298.3" x2="216" y2="306.8" stroke="#000084" stroke-width="2.5"/><rect x="566.9" y="119.6" width="2.5" height="3.2" fill="#000084"/><rect x="578.1" y="119.6" width="2.6" height="3.2" fill="#000084"/><rect x="232.10" y="227.10" width="8.4" height="2.6" fill="#000084"/><rect x="232.10" y="238.10" width="8.4" height="2.6" fill="#000084"/><rect x="264.50" y="227.10" width="8.4" height="2.6" fill="#000084"/><rect x="264.50" y="238.10" width="8.4" height="2.6" fill="#000084"/><rect x="280.10" y="227.10" width="8.4" height="2.6" fill="#000084"/><rect x="280.10" y="238.10" width="8.4" height="2.6" fill="#000084"/><g fill="none" stroke="#ffcc00" stroke-linejoin="miter" stroke-linecap="butt"><circle cx="355.6" cy="105.4" r="3.4" fill="#7c7c7c" stroke="none"/><polyline points="190.50,60.00 113.00,60.00 113.00,246.20 190.50,246.20" stroke-width="2.3"/><polyline points="113.00,126.50 125.50,126.50 125.50,179.00 113.00,179.00" stroke-width="2.3"/><polyline points="190.50,250.00 113.00,250.00 113.00,436.00 190.50,436.00" stroke-width="2.3"/><polyline points="113.00,316.00 127.00,316.00 127.00,369.50 113.00,369.50" stroke-width="2.3"/><line x1="190.4" y1="60.0" x2="190.4" y2="76.0" stroke-width="2.5"/><line x1="190.4" y1="97.0" x2="190.4" y2="102.0" stroke-width="2.5"/><line x1="190.4" y1="123.5" x2="190.4" y2="128.5" stroke-width="2.5"/><line x1="190.4" y1="149.8" x2="190.4" y2="155.0" stroke-width="2.5"/><line x1="190.4" y1="176.0" x2="190.4" y2="181.5" stroke-width="2.5"/><line x1="190.4" y1="202.7" x2="190.4" y2="208.0" stroke-width="2.5"/><line x1="190.4" y1="229.2" x2="190.4" y2="246.2" stroke-width="2.5"/><line x1="190.4" y1="250.0" x2="190.4" y2="265.5" stroke-width="2.5"/><line x1="190.4" y1="287.5" x2="190.4" y2="292.3" stroke-width="2.5"/><line x1="190.4" y1="313.5" x2="190.4" y2="318.8" stroke-width="2.5"/><line x1="190.4" y1="340.0" x2="190.4" y2="345.3" stroke-width="2.5"/><line x1="190.4" y1="366.5" x2="190.4" y2="371.6" stroke-width="2.5"/><line x1="190.4" y1="392.8" x2="190.4" y2="398.0" stroke-width="2.5"/><line x1="190.4" y1="419.3" x2="190.4" y2="436.0" stroke-width="2.5"/><polyline points="242.20,61.50 281.30,61.50" stroke-width="2.3"/><polyline points="242.20,122.80 281.30,122.80" stroke-width="2.3"/><polyline points="230.90,78.00 230.90,84.70" stroke-width="2.3"/><polyline points="230.90,99.30 230.90,105.90" stroke-width="2.3"/><circle cx="230.9" cy="61.5" r="1.5" fill="#ffcc00" stroke="none"/><circle cx="230.9" cy="122.8" r="1.5" fill="#ffcc00" stroke="none"/><polyline points="292.40,78.00 292.40,84.70" stroke-width="2.3"/><polyline points="292.40,99.30 292.40,105.90" stroke-width="2.3"/><circle cx="292.4" cy="61.5" r="1.5" fill="#ffcc00" stroke="none"/><circle cx="292.4" cy="122.8" r="1.5" fill="#ffcc00" stroke="none"/><rect x="251.30" y="75.00" width="21.20" height="33.80" rx="0.0" stroke-width="2.4"/><rect x="255.40" y="83.50" width="12.60" height="16.80" rx="0.0" stroke-width="2.6"/><rect x="231.20" y="132.40" width="56.60" height="30.00" rx="0.0" stroke-width="1.8"/><polyline points="250.60,132.40 250.60,162.40" stroke-width="1.8"/><rect x="229.40" y="168.80" width="57.60" height="29.20" rx="0.0" stroke-width="1.8"/><polyline points="249.40,168.80 249.40,198.00" stroke-width="1.8"/><polyline points="341.00,64.80 312.30,64.80 312.30,114.00 341.00,114.00" stroke-width="1.8"/><rect x="363.60" y="76.10" width="14.80" height="29.50" rx="4.5" stroke-width="2.8"/><rect x="385.60" y="60.90" width="206.50" height="63.10" rx="0.0" stroke-width="2.4"/><path d="M372.3 143.4H536.8A71 71 0 0 1 536.8 281.1H372.3A71 71 0 0 1 372.3 143.4Z" stroke-width="2.4"/><path d="M375.5 301H539.8A71 71 0 0 1 539.8 438.8H375.5A71 71 0 0 1 375.5 301Z" stroke-width="2.4"/><path d="M508.0 213.5h12M514.0 207.5v12" stroke-width="2.3"/><path d="M392.3 368.6h12M398.3 362.6v12" stroke-width="2.3"/><polyline points="237.50,306.00 237.50,364.50" stroke-width="2.0"/><polyline points="266.10,306.00 266.10,364.50" stroke-width="2.0"/><polyline points="237.50,327.50 266.10,327.50" stroke-width="2.0"/><rect x="235.2" y="305.2" width="4.6" height="4.7" fill="#ffcc00" stroke="none"/><rect x="235.7" y="362.5" width="3.6" height="2.5" fill="#ffcc00" stroke="none"/><rect x="263.8" y="305.2" width="4.6" height="4.7" fill="#ffcc00" stroke="none"/><rect x="264.3" y="362.5" width="3.6" height="2.5" fill="#ffcc00" stroke="none"/><polyline points="270.30,306.00 270.30,364.50" stroke-width="2.0"/><polyline points="299.70,306.00 299.70,364.50" stroke-width="2.0"/><polyline points="270.30,327.50 299.70,327.50" stroke-width="2.0"/><rect x="268.0" y="305.2" width="4.6" height="4.7" fill="#ffcc00" stroke="none"/><rect x="268.5" y="362.5" width="3.6" height="2.5" fill="#ffcc00" stroke="none"/><rect x="297.4" y="305.2" width="4.6" height="4.7" fill="#ffcc00" stroke="none"/><rect x="297.9" y="362.5" width="3.6" height="2.5" fill="#ffcc00" stroke="none"/><polyline points="233.50,409.00 233.50,399.50 241.50,399.50" stroke-width="2.5"/><polyline points="256.10,399.50 264.30,399.50 264.30,409.00" stroke-width="2.5"/><polyline points="270.00,409.00 270.00,399.50 278.00,399.50" stroke-width="2.5"/><polyline points="292.50,399.50 300.70,399.50 300.70,409.00" stroke-width="2.5"/><polyline points="244.80,415.70 252.60,415.70" stroke-width="1.8"/><polyline points="281.20,415.70 288.50,415.70" stroke-width="1.8"/><polyline points="197.20,531.60 206.30,531.60 206.30,538.50" stroke-width="2.5"/><polyline points="190.20,541.70 190.20,549.40" stroke-width="1.8"/><polyline points="206.30,553.50 206.30,562.00 196.50,562.00" stroke-width="2.5"/><polyline points="198.00,562.00 208.00,562.00 208.00,570.00" stroke-width="2.5"/><polyline points="191.00,573.80 191.00,580.70" stroke-width="1.8"/><polyline points="207.60,585.00 207.60,592.00 198.80,592.00" stroke-width="2.5"/><rect x="120.50" y="455.60" width="25.80" height="26.40" rx="0.0" stroke-width="2.5"/><rect x="150.40" y="455.60" width="25.70" height="26.40" rx="0.0" stroke-width="2.5"/><rect x="120.80" y="513.90" width="24.50" height="65.90" rx="0.0" stroke-width="2.3"/><rect x="148.70" y="513.90" width="25.80" height="65.90" rx="0.0" stroke-width="2.3"/><rect x="251.80" y="530.10" width="67.80" height="25.40" rx="0.0" stroke-width="2.5"/><rect x="251.80" y="558.50" width="67.80" height="25.70" rx="0.0" stroke-width="2.5"/><rect x="384.50" y="527.00" width="68.00" height="26.25" rx="0.0" stroke-width="2.5"/><rect x="435.50" y="560.75" width="68.25" height="26.25" rx="0.0" stroke-width="2.5"/><rect x="598.30" y="534.20" width="67.40" height="25.80" rx="0.0" stroke-width="2.5"/><rect x="398.00" y="594.25" width="27.00" height="27.00" rx="0.0" stroke-width="2.5"/><rect x="427.50" y="594.25" width="108.75" height="27.00" rx="0.0" stroke-width="2.5"/><rect x="563.75" y="594.25" width="27.50" height="27.00" rx="0.0" stroke-width="2.5"/><rect x="657.00" y="77.40" width="27.00" height="80.60" rx="0.0" stroke-width="2.5"/><rect x="689.50" y="86.25" width="26.75" height="67.50" rx="0.0" stroke-width="2.5"/><rect x="720.50" y="86.25" width="26.50" height="67.50" rx="0.0" stroke-width="2.5"/><rect x="614.50" y="155.00" width="26.75" height="68.00" rx="0.0" stroke-width="2.5"/><rect x="720.20" y="193.30" width="27.00" height="26.30" rx="0.0" stroke-width="2.5"/><rect x="616.00" y="263.60" width="26.20" height="26.70" rx="0.0" stroke-width="2.5"/><rect x="742.60" y="263.75" width="26.80" height="161.85" rx="0.0" stroke-width="2.5"/><rect x="704.00" y="289.40" width="26.10" height="66.40" rx="0.0" stroke-width="2.5"/><rect x="672.70" y="344.30" width="25.80" height="67.45" rx="0.0" stroke-width="2.5"/><rect x="742.50" y="431.90" width="26.90" height="26.85" rx="0.0" stroke-width="2.5"/><rect x="742.30" y="470.50" width="26.70" height="161.90" rx="0.0" stroke-width="2.5"/><rect x="702.25" y="498.75" width="25.75" height="67.50" rx="0.0" stroke-width="2.5"/><path d="M643.50 71.84A26.30 26.30 0 1 0 643.50 114.76" stroke-width="2.6"/><line x1="643.50" y1="71.84" x2="643.50" y2="114.76" stroke="#8c8c8c" stroke-width="2.4"/><path d="M716.25 194.58A26.25 26.25 0 1 0 716.25 236.72" stroke-width="2.6"/><line x1="716.25" y1="194.58" x2="716.25" y2="236.72" stroke="#8c8c8c" stroke-width="2.4"/><path d="M701.75 262.10A26.25 26.25 0 1 0 701.75 304.10" stroke-width="2.6"/><line x1="701.75" y1="262.10" x2="701.75" y2="304.10" stroke="#8c8c8c" stroke-width="2.4"/><path d="M698.75 471.25A26.00 26.00 0 1 0 698.75 511.85" stroke-width="2.6"/><line x1="698.75" y1="471.25" x2="698.75" y2="511.85" stroke="#8c8c8c" stroke-width="2.4"/><path d="M490.38 556.20A26.50 26.50 0 1 1 532.62 556.20" stroke-width="2.6"/><line x1="490.38" y1="556.20" x2="532.62" y2="556.20" stroke="#8c8c8c" stroke-width="2.4"/><rect x="708.40" y="392.20" width="13.80" height="12.90" rx="0.0" stroke-width="1.8"/><path d="M708.4 410.9H722.2V422.5Q722.2 426 718.7 426H711.9Q708.4 426 708.4 422.5Z" stroke-width="1.8"/><path d="M712.9 407.2L718.3 407.2L715.6 409.6Z" fill="#ffcc00" stroke="none"/><rect x="680.20" y="584.20" width="13.70" height="14.60" rx="0.0" stroke-width="1.8"/><path d="M674.7 584.2V598.8H662.7Q659.2 598.8 659.2 595.3V587.7Q659.2 584.2 662.7 584.2Z" stroke-width="1.8"/><path d="M678.1 588.7L675.8 591.9L678.1 595Z" fill="#ffcc00" stroke="none"/><rect x="388.20" y="566.60" width="13.80" height="14.30" rx="0.0" stroke-width="1.8"/><path d="M383.3 566.6V580.9H372.6Q369.1 580.9 369.1 577.4V570.1Q369.1 566.6 372.6 566.6Z" stroke-width="1.8"/><path d="M384.6 571.2L387 573.8L384.6 576.4Z" fill="#ffcc00" stroke="none"/></g><rect x="226.00" y="136.75" width="22.10" height="21.50" rx="0.0" fill="#ff0000" stroke="none"/><rect x="272.50" y="136.75" width="22.10" height="21.50" rx="0.0" fill="#ff0000" stroke="none"/><rect x="224.75" y="173.00" width="21.75" height="21.50" rx="0.0" fill="#ff0000" stroke="none"/><rect x="271.25" y="173.00" width="21.85" height="21.50" rx="0.0" fill="#ff0000" stroke="none"/><rect x="241.10" y="302.10" width="21.90" height="21.80" rx="0.0" fill="#ff0000" stroke="none"/><rect x="241.10" y="348.60" width="21.90" height="22.20" rx="0.0" fill="#ff0000" stroke="none"/><rect x="273.90" y="302.10" width="21.90" height="21.80" rx="0.0" fill="#ff0000" stroke="none"/><rect x="273.90" y="348.60" width="21.90" height="22.20" rx="0.0" fill="#ff0000" stroke="none"/><rect x="297.25" y="79" width="39" height="20.9" rx="10.45" fill="#ff0000" stroke="none"/><rect x="334.00" y="85.70" width="21.00" height="6.80" rx="0.0" fill="#ff0000" stroke="none"/><rect x="337.65" y="69.50" width="17.25" height="7.90" rx="0.0" fill="#ff0000" stroke="none"/><rect x="337.65" y="101.5" width="17.25" height="7.9" fill="#ff0000" stroke="#b01020" stroke-width="0.4"/><rect x="365.90" y="78.00" width="10.35" height="10.60" rx="0.0" fill="#ff0000" stroke="none"/><rect x="365.90" y="93.60" width="10.35" height="9.40" rx="0.0" fill="#ff0000" stroke="none"/><rect x="235.30" y="412.70" width="7.00" height="13.00" rx="0.0" fill="#ff0000" stroke="none"/><rect x="254.80" y="412.70" width="8.30" height="13.00" rx="0.0" fill="#ff0000" stroke="none"/><rect x="271.20" y="412.70" width="7.90" height="13.00" rx="0.0" fill="#ff0000" stroke="none"/><rect x="291.00" y="412.70" width="8.30" height="13.00" rx="0.0" fill="#ff0000" stroke="none"/><rect x="245.00" y="385.60" width="7.70" height="13.20" rx="0.0" fill="#ff0000" stroke="none"/><rect x="281.20" y="385.60" width="8.40" height="13.20" rx="0.0" fill="#ff0000" stroke="none"/><rect x="179.50" y="532.20" width="13.30" height="6.80" rx="0.0" fill="#ff0000" stroke="none"/><rect x="180.30" y="552.40" width="13.00" height="6.90" rx="0.0" fill="#ff0000" stroke="none"/><rect x="206.30" y="542.50" width="13.00" height="6.90" rx="0.0" fill="#ff0000" stroke="none"/><rect x="181.00" y="564.70" width="13.00" height="6.80" rx="0.0" fill="#ff0000" stroke="none"/><rect x="181.00" y="584.50" width="13.00" height="6.90" rx="0.0" fill="#ff0000" stroke="none"/><rect x="207.00" y="574.60" width="13.80" height="6.90" rx="0.0" fill="#ff0000" stroke="none"/><rect x="710.00" y="393.75" width="10.60" height="10.00" rx="0.0" fill="#ff0000" stroke="none"/><rect x="710.00" y="411.90" width="10.60" height="10.00" rx="0.0" fill="#ff0000" stroke="none"/><rect x="662.30" y="585.80" width="11.20" height="11.90" rx="0.0" fill="#ff0000" stroke="none"/><rect x="681.00" y="585.80" width="11.60" height="11.90" rx="0.0" fill="#ff0000" stroke="none"/><rect x="371.00" y="568.80" width="10.00" height="10.00" rx="0.0" fill="#ff0000" stroke="none"/><rect x="390.00" y="568.80" width="10.00" height="10.00" rx="0.0" fill="#ff0000" stroke="none"/><rect x="364" y="89" width="14" height="3.8" fill="#000"/><rect x="368.2" y="91" width="5.6" height="2.8" fill="#ff0000"/><rect x="183.90" y="77.60" width="17.80" height="17.80" fill="#666666" stroke="#4b2060" stroke-width="0.5"/><circle cx="192.80" cy="86.50" r="5.10" fill="#232323"/><circle cx="192.70" cy="112.75" r="8.95" fill="#666666" stroke="#4b2060" stroke-width="0.5"/><circle cx="192.70" cy="112.75" r="5.10" fill="#232323"/><circle cx="192.70" cy="139.10" r="8.95" fill="#666666" stroke="#4b2060" stroke-width="0.5"/><circle cx="192.70" cy="139.10" r="5.10" fill="#232323"/><circle cx="192.70" cy="165.40" r="8.95" fill="#666666" stroke="#4b2060" stroke-width="0.5"/><circle cx="192.70" cy="165.40" r="5.10" fill="#232323"/><circle cx="192.70" cy="192.10" r="8.95" fill="#666666" stroke="#4b2060" stroke-width="0.5"/><circle cx="192.70" cy="192.10" r="5.10" fill="#232323"/><circle cx="192.70" cy="218.60" r="8.95" fill="#666666" stroke="#4b2060" stroke-width="0.5"/><circle cx="192.70" cy="218.60" r="5.10" fill="#232323"/><rect x="183.80" y="268.00" width="18.00" height="18.00" fill="#666666" stroke="#4b2060" stroke-width="0.5"/><circle cx="192.80" cy="277.00" r="5.10" fill="#232323"/><circle cx="192.70" cy="303.10" r="8.95" fill="#666666" stroke="#4b2060" stroke-width="0.5"/><circle cx="192.70" cy="303.10" r="5.10" fill="#232323"/><circle cx="192.70" cy="329.50" r="8.95" fill="#666666" stroke="#4b2060" stroke-width="0.5"/><circle cx="192.70" cy="329.50" r="5.10" fill="#232323"/><circle cx="192.70" cy="355.90" r="8.95" fill="#666666" stroke="#4b2060" stroke-width="0.5"/><circle cx="192.70" cy="355.90" r="5.10" fill="#232323"/><circle cx="192.70" cy="382.30" r="8.95" fill="#666666" stroke="#4b2060" stroke-width="0.5"/><circle cx="192.70" cy="382.30" r="5.10" fill="#232323"/><circle cx="192.70" cy="408.70" r="8.95" fill="#666666" stroke="#4b2060" stroke-width="0.5"/><circle cx="192.70" cy="408.70" r="5.10" fill="#232323"/><circle cx="237.80" cy="70.70" r="8.60" fill="#666666" stroke="#4b2060" stroke-width="0.5"/><circle cx="237.80" cy="70.70" r="5.80" fill="#232323"/><circle cx="237.80" cy="92.00" r="8.60" fill="#666666" stroke="#4b2060" stroke-width="0.5"/><circle cx="237.80" cy="92.00" r="5.80" fill="#232323"/><circle cx="237.80" cy="113.40" r="8.60" fill="#666666" stroke="#4b2060" stroke-width="0.5"/><circle cx="237.80" cy="113.40" r="5.80" fill="#232323"/><circle cx="285.50" cy="70.70" r="8.60" fill="#666666" stroke="#4b2060" stroke-width="0.5"/><circle cx="285.50" cy="70.70" r="5.80" fill="#232323"/><circle cx="285.50" cy="92.00" r="8.60" fill="#666666" stroke="#4b2060" stroke-width="0.5"/><circle cx="285.50" cy="92.00" r="5.80" fill="#232323"/><circle cx="285.50" cy="113.40" r="8.60" fill="#666666" stroke="#4b2060" stroke-width="0.5"/><circle cx="285.50" cy="113.40" r="5.80" fill="#232323"/><circle cx="407.25" cy="106.80" r="9.80" fill="#666666" stroke="#4b2060" stroke-width="0.5"/><circle cx="407.25" cy="106.80" r="5.50" fill="#232323"/><circle cx="461.25" cy="106.80" r="9.50" fill="#666666" stroke="#4b2060" stroke-width="0.5"/><circle cx="461.25" cy="106.80" r="5.60" fill="#232323"/><circle cx="542.50" cy="106.80" r="9.50" fill="#666666" stroke="#4b2060" stroke-width="0.5"/><circle cx="542.50" cy="106.80" r="5.60" fill="#232323"/><circle cx="569.60" cy="106.80" r="9.80" fill="#666666" stroke="#4b2060" stroke-width="0.5"/><circle cx="569.60" cy="106.80" r="5.50" fill="#232323"/><circle cx="359.00" cy="213.50" r="10.75" fill="#666666" stroke="#4b2060" stroke-width="0.5"/><circle cx="359.00" cy="213.50" r="5.95" fill="#232323"/><circle cx="550.20" cy="213.50" r="10.75" fill="#666666" stroke="#4b2060" stroke-width="0.5"/><circle cx="550.20" cy="213.50" r="5.95" fill="#232323"/><circle cx="361.50" cy="368.60" r="10.75" fill="#666666" stroke="#4b2060" stroke-width="0.5"/><circle cx="361.50" cy="368.60" r="5.95" fill="#232323"/><circle cx="553.10" cy="368.60" r="10.75" fill="#666666" stroke="#4b2060" stroke-width="0.5"/><circle cx="553.10" cy="368.60" r="5.95" fill="#232323"/><circle cx="627.50" cy="135.00" r="10.20" fill="#666666" stroke="#4b2060" stroke-width="0.5"/><circle cx="627.50" cy="135.00" r="4.80" fill="#232323"/><circle cx="702.80" cy="66.10" r="10.20" fill="#666666" stroke="#4b2060" stroke-width="0.5"/><circle cx="702.80" cy="66.10" r="4.80" fill="#232323"/><circle cx="733.70" cy="66.10" r="10.20" fill="#666666" stroke="#4b2060" stroke-width="0.5"/><circle cx="733.70" cy="66.10" r="4.80" fill="#232323"/><circle cx="702.50" cy="174.30" r="10.20" fill="#666666" stroke="#4b2060" stroke-width="0.5"/><circle cx="702.50" cy="174.30" r="4.80" fill="#232323"/><circle cx="733.75" cy="174.30" r="10.20" fill="#666666" stroke="#4b2060" stroke-width="0.5"/><circle cx="733.75" cy="174.30" r="4.80" fill="#232323"/><circle cx="627.60" cy="243.30" r="10.20" fill="#666666" stroke="#4b2060" stroke-width="0.5"/><circle cx="627.60" cy="243.30" r="4.80" fill="#232323"/><circle cx="716.50" cy="268.75" r="10.20" fill="#666666" stroke="#4b2060" stroke-width="0.5"/><circle cx="716.50" cy="268.75" r="4.80" fill="#232323"/><circle cx="685.60" cy="323.75" r="10.20" fill="#666666" stroke="#4b2060" stroke-width="0.5"/><circle cx="685.60" cy="323.75" r="4.80" fill="#232323"/><circle cx="716.25" cy="377.00" r="10.20" fill="#666666" stroke="#4b2060" stroke-width="0.5"/><circle cx="716.25" cy="377.00" r="4.80" fill="#232323"/><circle cx="685.00" cy="431.25" r="10.20" fill="#666666" stroke="#4b2060" stroke-width="0.5"/><circle cx="685.00" cy="431.25" r="4.80" fill="#232323"/><circle cx="714.75" cy="478.40" r="10.20" fill="#666666" stroke="#4b2060" stroke-width="0.5"/><circle cx="714.75" cy="478.40" r="4.80" fill="#232323"/><circle cx="685.30" cy="547.10" r="10.20" fill="#666666" stroke="#4b2060" stroke-width="0.5"/><circle cx="685.30" cy="547.10" r="4.80" fill="#232323"/><circle cx="715.00" cy="586.40" r="10.20" fill="#666666" stroke="#4b2060" stroke-width="0.5"/><circle cx="715.00" cy="586.40" r="4.80" fill="#232323"/><circle cx="577.40" cy="547.00" r="10.20" fill="#666666" stroke="#4b2060" stroke-width="0.5"/><circle cx="577.40" cy="547.00" r="4.80" fill="#232323"/><circle cx="523.50" cy="574.00" r="10.20" fill="#666666" stroke="#4b2060" stroke-width="0.5"/><circle cx="523.50" cy="574.00" r="4.80" fill="#232323"/><circle cx="472.10" cy="540.30" r="10.20" fill="#666666" stroke="#4b2060" stroke-width="0.5"/><circle cx="472.10" cy="540.30" r="4.80" fill="#232323"/><circle cx="415.60" cy="574.00" r="10.20" fill="#666666" stroke="#4b2060" stroke-width="0.5"/><circle cx="415.60" cy="574.00" r="4.80" fill="#232323"/><circle cx="364.50" cy="540.20" r="10.20" fill="#666666" stroke="#4b2060" stroke-width="0.5"/><circle cx="364.50" cy="540.20" r="4.80" fill="#232323"/><circle cx="340.00" cy="542.40" r="10.20" fill="#666666" stroke="#4b2060" stroke-width="0.5"/><circle cx="340.00" cy="542.40" r="4.80" fill="#232323"/><circle cx="340.00" cy="570.70" r="10.20" fill="#666666" stroke="#4b2060" stroke-width="0.5"/><circle cx="340.00" cy="570.70" r="4.80" fill="#232323"/><circle cx="232.30" cy="542.50" r="10.20" fill="#666666" stroke="#4b2060" stroke-width="0.5"/><circle cx="232.30" cy="542.50" r="4.80" fill="#232323"/><circle cx="232.30" cy="570.80" r="10.20" fill="#666666" stroke="#4b2060" stroke-width="0.5"/><circle cx="232.30" cy="570.80" r="4.80" fill="#232323"/><circle cx="133.40" cy="493.10" r="10.20" fill="#666666" stroke="#4b2060" stroke-width="0.5"/><circle cx="133.40" cy="493.10" r="4.80" fill="#232323"/><circle cx="162.00" cy="493.10" r="10.20" fill="#666666" stroke="#4b2060" stroke-width="0.5"/><circle cx="162.00" cy="493.10" r="4.80" fill="#232323"/><circle cx="133.30" cy="600.80" r="10.20" fill="#666666" stroke="#4b2060" stroke-width="0.5"/><circle cx="133.30" cy="600.80" r="4.80" fill="#232323"/><circle cx="161.30" cy="600.80" r="10.20" fill="#666666" stroke="#4b2060" stroke-width="0.5"/><circle cx="161.30" cy="600.80" r="4.80" fill="#232323"/><circle cx="670.00" cy="90.25" r="8.60" fill="#666666" stroke="#4b2060" stroke-width="0.5"/><circle cx="670.00" cy="90.25" r="4.90" fill="#232323"/><circle cx="670.00" cy="117.40" r="8.80" fill="#666666" stroke="#4b2060" stroke-width="0.5"/><circle cx="670.00" cy="117.40" r="4.90" fill="#232323"/><rect x="660.95" y="135.65" width="18.10" height="18.10" fill="#666666" stroke="#4b2060" stroke-width="0.5"/><circle cx="670.00" cy="144.70" r="4.90" fill="#232323"/><rect x="746.65" y="267.95" width="18.10" height="18.10" fill="#666666" stroke="#4b2060" stroke-width="0.5"/><circle cx="755.70" cy="277.00" r="4.70" fill="#232323"/><circle cx="755.70" cy="303.90" r="9.05" fill="#666666" stroke="#4b2060" stroke-width="0.5"/><circle cx="755.70" cy="303.90" r="4.70" fill="#232323"/><circle cx="755.70" cy="330.90" r="9.05" fill="#666666" stroke="#4b2060" stroke-width="0.5"/><circle cx="755.70" cy="330.90" r="4.70" fill="#232323"/><circle cx="755.70" cy="357.80" r="9.05" fill="#666666" stroke="#4b2060" stroke-width="0.5"/><circle cx="755.70" cy="357.80" r="4.70" fill="#232323"/><circle cx="755.70" cy="384.80" r="9.05" fill="#666666" stroke="#4b2060" stroke-width="0.5"/><circle cx="755.70" cy="384.80" r="4.70" fill="#232323"/><circle cx="755.70" cy="411.80" r="9.05" fill="#666666" stroke="#4b2060" stroke-width="0.5"/><circle cx="755.70" cy="411.80" r="4.70" fill="#232323"/><rect x="746.55" y="474.95" width="17.90" height="17.90" fill="#666666" stroke="#4b2060" stroke-width="0.5"/><circle cx="755.50" cy="483.90" r="4.70" fill="#232323"/><circle cx="755.40" cy="510.80" r="9.05" fill="#666666" stroke="#4b2060" stroke-width="0.5"/><circle cx="755.40" cy="510.80" r="4.70" fill="#232323"/><circle cx="755.40" cy="537.60" r="9.05" fill="#666666" stroke="#4b2060" stroke-width="0.5"/><circle cx="755.40" cy="537.60" r="4.70" fill="#232323"/><circle cx="755.40" cy="564.40" r="9.05" fill="#666666" stroke="#4b2060" stroke-width="0.5"/><circle cx="755.40" cy="564.40" r="4.70" fill="#232323"/><circle cx="755.40" cy="591.30" r="9.05" fill="#666666" stroke="#4b2060" stroke-width="0.5"/><circle cx="755.40" cy="591.30" r="4.70" fill="#232323"/><circle cx="755.40" cy="618.30" r="9.05" fill="#666666" stroke="#4b2060" stroke-width="0.5"/><circle cx="755.40" cy="618.30" r="4.70" fill="#232323"/><circle cx="440.75" cy="607.50" r="9.05" fill="#666666" stroke="#4b2060" stroke-width="0.5"/><circle cx="440.75" cy="607.50" r="4.70" fill="#232323"/><circle cx="468.00" cy="607.50" r="9.05" fill="#666666" stroke="#4b2060" stroke-width="0.5"/><circle cx="468.00" cy="607.50" r="4.70" fill="#232323"/><circle cx="495.00" cy="607.50" r="9.05" fill="#666666" stroke="#4b2060" stroke-width="0.5"/><circle cx="495.00" cy="607.50" r="4.70" fill="#232323"/><rect x="512.95" y="598.45" width="18.10" height="18.10" fill="#666666" stroke="#4b2060" stroke-width="0.5"/><circle cx="522.00" cy="607.50" r="4.70" fill="#232323"/><rect x="402.70" y="598.45" width="18.10" height="18.10" fill="#666666" stroke="#4b2060" stroke-width="0.5"/><circle cx="411.75" cy="607.50" r="4.70" fill="#232323"/><rect x="568.45" y="598.45" width="18.10" height="18.10" fill="#666666" stroke="#4b2060" stroke-width="0.5"/><circle cx="577.50" cy="607.50" r="4.70" fill="#232323"/><rect x="746.85" y="436.85" width="18.10" height="18.10" fill="#666666" stroke="#4b2060" stroke-width="0.5"/><circle cx="755.90" cy="445.90" r="4.70" fill="#232323"/><rect x="619.95" y="267.85" width="18.10" height="18.10" fill="#666666" stroke="#4b2060" stroke-width="0.5"/><circle cx="629.00" cy="276.90" r="4.70" fill="#232323"/><rect x="724.85" y="197.45" width="18.10" height="18.10" fill="#666666" stroke="#4b2060" stroke-width="0.5"/><circle cx="733.90" cy="206.50" r="4.70" fill="#232323"/><rect x="153.55" y="459.95" width="18.10" height="18.10" fill="#666666" stroke="#4b2060" stroke-width="0.5"/><circle cx="162.60" cy="469.00" r="4.70" fill="#232323"/><rect x="124.35" y="459.95" width="18.10" height="18.10" fill="#666666" stroke="#4b2060" stroke-width="0.5"/><circle cx="133.40" cy="469.00" r="4.70" fill="#232323"/><rect x="618.62" y="74.10" width="17.75" height="10.80" rx="5.4" fill="#666666" stroke="#5b2a66" stroke-width="0.4"/><circle cx="627.50" cy="79.50" r="3.80" fill="#232323"/><rect x="618.62" y="87.60" width="17.75" height="10.80" rx="5.4" fill="#666666" stroke="#5b2a66" stroke-width="0.4"/><circle cx="627.50" cy="93.00" r="3.80" fill="#232323"/><rect x="618.62" y="101.80" width="17.75" height="10.40" rx="0.0" fill="#666666" stroke="#5b2a66" stroke-width="0.4"/><circle cx="627.50" cy="107.00" r="3.80" fill="#232323"/><rect x="691.12" y="197.10" width="17.75" height="10.80" rx="5.4" fill="#666666" stroke="#5b2a66" stroke-width="0.4"/><circle cx="700.00" cy="202.50" r="3.80" fill="#232323"/><rect x="691.12" y="210.30" width="17.75" height="10.80" rx="5.4" fill="#666666" stroke="#5b2a66" stroke-width="0.4"/><circle cx="700.00" cy="215.70" r="3.80" fill="#232323"/><rect x="691.12" y="224.05" width="17.75" height="10.40" rx="0.0" fill="#666666" stroke="#5b2a66" stroke-width="0.4"/><circle cx="700.00" cy="229.25" r="3.80" fill="#232323"/><rect x="676.73" y="264.00" width="17.75" height="10.80" rx="5.4" fill="#666666" stroke="#5b2a66" stroke-width="0.4"/><circle cx="685.60" cy="269.40" r="3.80" fill="#232323"/><rect x="676.73" y="277.50" width="17.75" height="10.80" rx="5.4" fill="#666666" stroke="#5b2a66" stroke-width="0.4"/><circle cx="685.60" cy="282.90" r="3.80" fill="#232323"/><rect x="676.73" y="291.70" width="17.75" height="10.40" rx="0.0" fill="#666666" stroke="#5b2a66" stroke-width="0.4"/><circle cx="685.60" cy="296.90" r="3.80" fill="#232323"/><rect x="673.62" y="473.00" width="17.75" height="10.80" rx="5.4" fill="#666666" stroke="#5b2a66" stroke-width="0.4"/><circle cx="682.50" cy="478.40" r="3.80" fill="#232323"/><rect x="673.62" y="486.20" width="17.75" height="10.80" rx="5.4" fill="#666666" stroke="#5b2a66" stroke-width="0.4"/><circle cx="682.50" cy="491.60" r="3.80" fill="#232323"/><rect x="673.62" y="500.05" width="17.75" height="10.40" rx="0.0" fill="#666666" stroke="#5b2a66" stroke-width="0.4"/><circle cx="682.50" cy="505.25" r="3.80" fill="#232323"/><rect x="492.60" y="531.62" width="10.80" height="17.75" rx="0.0" fill="#666666" stroke="#5b2a66" stroke-width="0.4"/><circle cx="498.00" cy="540.50" r="3.80" fill="#232323"/><rect x="506.10" y="531.62" width="10.80" height="17.75" rx="5.4" fill="#666666" stroke="#5b2a66" stroke-width="0.4"/><circle cx="511.50" cy="540.50" r="3.80" fill="#232323"/><rect x="519.60" y="531.62" width="10.80" height="17.75" rx="5.4" fill="#666666" stroke="#5b2a66" stroke-width="0.4"/><circle cx="525.00" cy="540.50" r="3.80" fill="#232323"/><rect x="616.4" y="102" width="2.4" height="10.4" fill="#000084"/><circle cx="236.00" cy="204.50" r="5.30" fill="#8a8a8a"/><circle cx="236.00" cy="204.50" r="4.50" fill="#232323"/><circle cx="284.80" cy="277.10" r="5.30" fill="#8a8a8a"/><circle cx="284.80" cy="277.10" r="4.50" fill="#232323"/><circle cx="268.20" cy="290.30" r="5.30" fill="#8a8a8a"/><circle cx="268.20" cy="290.30" r="4.50" fill="#232323"/><g fill="#ffcc00" style="font-family:&quot;Liberation Sans&quot;,sans-serif"><text transform="translate(219.00 80.20) rotate(-90)" font-size="18.0" text-anchor="middle" dominant-baseline="central" textLength="30.5" lengthAdjust="spacingAndGlyphs">SW1</text><text transform="translate(213.50 162.50) rotate(90)" font-size="18.0" text-anchor="middle" dominant-baseline="central" textLength="22.0" lengthAdjust="spacingAndGlyphs">M4</text><text transform="translate(212.40 352.80) rotate(90)" font-size="18.0" text-anchor="middle" dominant-baseline="central" textLength="22.0" lengthAdjust="spacingAndGlyphs">M3</text><text transform="translate(262.50 146.20) rotate(0)" font-size="18.0" text-anchor="middle" dominant-baseline="central" textLength="20.5" lengthAdjust="spacingAndGlyphs">D5</text><text transform="translate(261.00 181.50) rotate(0)" font-size="18.0" text-anchor="middle" dominant-baseline="central" textLength="19.5" lengthAdjust="spacingAndGlyphs">D6</text><text transform="translate(322.70 128.80) rotate(0)" font-size="18.0" text-anchor="middle" dominant-baseline="central" textLength="21.0" lengthAdjust="spacingAndGlyphs">U3</text><text transform="translate(371.20 119.20) rotate(-90)" font-size="18.0" text-anchor="middle" dominant-baseline="central" textLength="20.0" lengthAdjust="spacingAndGlyphs">C2</text><text transform="translate(481.70 134.50) rotate(180)" font-size="18.0" text-anchor="middle" dominant-baseline="central" textLength="21.0" lengthAdjust="spacingAndGlyphs">U2</text><text transform="translate(443.20 293.00) rotate(180)" font-size="18.0" text-anchor="middle" dominant-baseline="central" textLength="17.5" lengthAdjust="spacingAndGlyphs">C1</text><text transform="translate(475.50 293.00) rotate(0)" font-size="18.0" text-anchor="middle" dominant-baseline="central" textLength="21.5" lengthAdjust="spacingAndGlyphs">C3</text><text transform="translate(592.80 85.50) rotate(-90)" font-size="18.0" text-anchor="middle" dominant-baseline="central" textLength="27.5" lengthAdjust="spacingAndGlyphs">Q15</text><text transform="translate(673.70 68.60) rotate(-90)" font-size="18.0" text-anchor="middle" dominant-baseline="central" textLength="14.0" lengthAdjust="spacingAndGlyphs">J1</text><text transform="translate(700.50 113.70) rotate(-90)" font-size="18.0" text-anchor="middle" dominant-baseline="central" textLength="21.0" lengthAdjust="spacingAndGlyphs">R6</text><text transform="translate(733.70 110.00) rotate(-90)" font-size="18.0" text-anchor="middle" dominant-baseline="central" textLength="21.0" lengthAdjust="spacingAndGlyphs">R5</text><text transform="translate(627.50 191.00) rotate(90)" font-size="18.0" text-anchor="middle" dominant-baseline="central" textLength="21.0" lengthAdjust="spacingAndGlyphs">R7</text><text transform="translate(661.20 217.50) rotate(-90)" font-size="18.0" text-anchor="middle" dominant-baseline="central" textLength="28.8" lengthAdjust="spacingAndGlyphs">Q14</text><text transform="translate(756.00 206.00) rotate(90)" font-size="18.0" text-anchor="middle" dominant-baseline="central" textLength="24.0" lengthAdjust="spacingAndGlyphs">J15</text><text transform="translate(607.20 265.00) rotate(-90)" font-size="18.0" text-anchor="middle" dominant-baseline="central" textLength="25.0" lengthAdjust="spacingAndGlyphs">J14</text><text transform="translate(650.60 285.00) rotate(-90)" font-size="18.0" text-anchor="middle" dominant-baseline="central" textLength="27.5" lengthAdjust="spacingAndGlyphs">Q16</text><text transform="translate(717.00 322.50) rotate(-90)" font-size="18.0" text-anchor="middle" dominant-baseline="central" textLength="21.0" lengthAdjust="spacingAndGlyphs">R8</text><text transform="translate(778.20 350.30) rotate(90)" font-size="18.0" text-anchor="middle" dominant-baseline="central" textLength="18.0" lengthAdjust="spacingAndGlyphs">J3</text><text transform="translate(685.00 377.00) rotate(90)" font-size="18.0" text-anchor="middle" dominant-baseline="central" textLength="25.0" lengthAdjust="spacingAndGlyphs">R11</text><text transform="translate(732.50 410.30) rotate(90)" font-size="18.0" text-anchor="middle" dominant-baseline="central" textLength="38.0" lengthAdjust="spacingAndGlyphs">LED1</text><text transform="translate(732.20 446.30) rotate(-90)" font-size="18.0" text-anchor="middle" dominant-baseline="central" textLength="25.0" lengthAdjust="spacingAndGlyphs">J13</text><text transform="translate(645.00 490.60) rotate(-90)" font-size="18.0" text-anchor="middle" dominant-baseline="central" textLength="27.5" lengthAdjust="spacingAndGlyphs">Q18</text><text transform="translate(714.70 526.30) rotate(90)" font-size="18.0" text-anchor="middle" dominant-baseline="central" textLength="29.0" lengthAdjust="spacingAndGlyphs">R10</text><text transform="translate(778.00 556.80) rotate(90)" font-size="18.0" text-anchor="middle" dominant-baseline="central" textLength="18.0" lengthAdjust="spacingAndGlyphs">J4</text><text transform="translate(632.00 545.70) rotate(180)" font-size="18.0" text-anchor="middle" dominant-baseline="central" textLength="29.0" lengthAdjust="spacingAndGlyphs">R13</text><text transform="translate(677.80 609.00) rotate(180)" font-size="18.0" text-anchor="middle" dominant-baseline="central" textLength="42.0" lengthAdjust="spacingAndGlyphs">LED3</text><text transform="translate(552.50 542.20) rotate(0)" font-size="18.0" text-anchor="middle" dominant-baseline="central" textLength="27.5" lengthAdjust="spacingAndGlyphs">Q17</text><text transform="translate(413.70 540.00) rotate(180)" font-size="18.0" text-anchor="middle" dominant-baseline="central" textLength="29.0" lengthAdjust="spacingAndGlyphs">R12</text><text transform="translate(470.00 577.00) rotate(180)" font-size="18.0" text-anchor="middle" dominant-baseline="central" textLength="21.0" lengthAdjust="spacingAndGlyphs">R9</text><text transform="translate(381.40 590.50) rotate(180)" font-size="18.0" text-anchor="middle" dominant-baseline="central" textLength="41.5" lengthAdjust="spacingAndGlyphs">LED2</text><text transform="translate(405.70 630.00) rotate(0)" font-size="18.0" text-anchor="middle" dominant-baseline="central" textLength="24.0" lengthAdjust="spacingAndGlyphs">J12</text><text transform="translate(476.20 630.00) rotate(180)" font-size="18.0" text-anchor="middle" dominant-baseline="central" textLength="16.0" lengthAdjust="spacingAndGlyphs">J2</text><text transform="translate(577.70 630.00) rotate(180)" font-size="18.0" text-anchor="middle" dominant-baseline="central" textLength="20.5" lengthAdjust="spacingAndGlyphs">J11</text><text transform="translate(282.50 541.50) rotate(180)" font-size="18.0" text-anchor="middle" dominant-baseline="central" textLength="21.0" lengthAdjust="spacingAndGlyphs">R3</text><text transform="translate(284.00 574.50) rotate(180)" font-size="18.0" text-anchor="middle" dominant-baseline="central" textLength="21.0" lengthAdjust="spacingAndGlyphs">R2</text><text transform="translate(134.20 538.30) rotate(90)" font-size="18.0" text-anchor="middle" dominant-baseline="central" textLength="20.0" lengthAdjust="spacingAndGlyphs">R1</text><text transform="translate(161.00 547.00) rotate(90)" font-size="18.0" text-anchor="middle" dominant-baseline="central" textLength="21.0" lengthAdjust="spacingAndGlyphs">R4</text><text transform="translate(131.90 445.30) rotate(90)" font-size="18.0" text-anchor="middle" dominant-baseline="central" textLength="16.5" lengthAdjust="spacingAndGlyphs">J6</text><text transform="translate(162.80 445.30) rotate(90)" font-size="18.0" text-anchor="middle" dominant-baseline="central" textLength="16.5" lengthAdjust="spacingAndGlyphs">J5</text><text transform="translate(193.00 521.50) rotate(180)" font-size="18.0" text-anchor="middle" dominant-baseline="central" textLength="28.0" lengthAdjust="spacingAndGlyphs">Q13</text><text transform="translate(193.30 600.50) rotate(180)" font-size="18.0" text-anchor="middle" dominant-baseline="central" textLength="17.0" lengthAdjust="spacingAndGlyphs">Q1</text><text transform="translate(256.20 338.20) rotate(90)" font-size="18.0" text-anchor="middle" dominant-baseline="central" textLength="21.0" lengthAdjust="spacingAndGlyphs">D7</text><text transform="translate(286.90 338.20) rotate(90)" font-size="18.0" text-anchor="middle" dominant-baseline="central" textLength="21.0" lengthAdjust="spacingAndGlyphs">D8</text><text transform="translate(262.00 386.80) rotate(90)" font-size="18.0" text-anchor="middle" dominant-baseline="central" textLength="22.6" lengthAdjust="spacingAndGlyphs">Q2</text><text transform="translate(297.60 386.80) rotate(90)" font-size="18.0" text-anchor="middle" dominant-baseline="central" textLength="22.6" lengthAdjust="spacingAndGlyphs">Q3</text><text x="245.3" y="494.2" font-size="40.2" fill="#ffcc00" stroke="#ffcc00" stroke-width="0.5" text-anchor="start" textLength="80.4" lengthAdjust="spacingAndGlyphs" style="font-family:&quot;Liberation Serif&quot;,&quot;Noto Serif CJK SC&quot;,serif">电赛</text></g></svg></body></html>
